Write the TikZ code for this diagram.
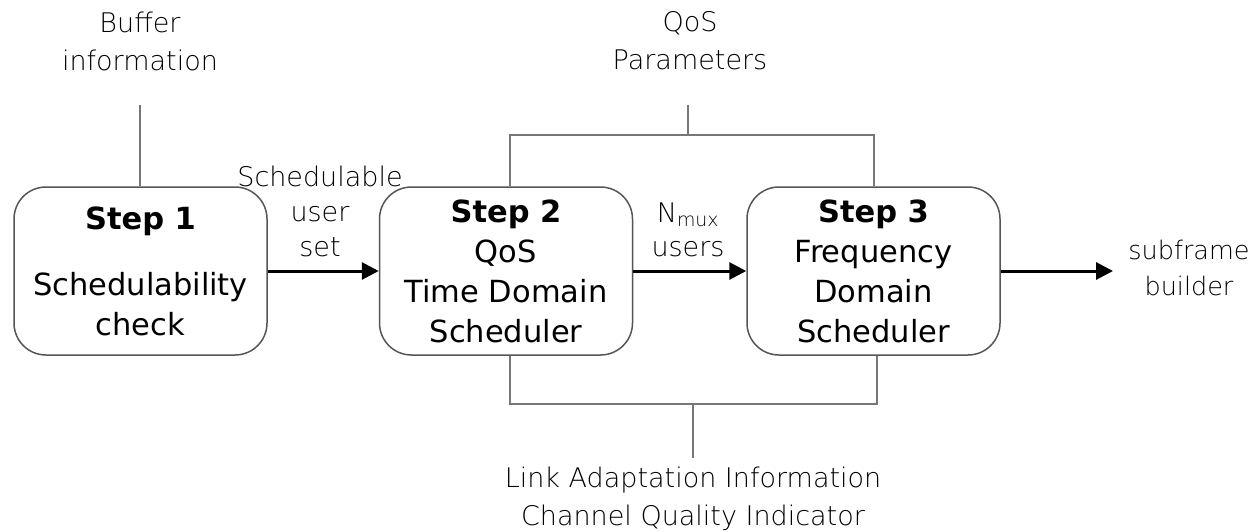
\documentclass[tikz,border=0pt]{standalone}
\usepackage{fontspec}
\setmainfont{DejaVu Sans}
\newfontfamily\lightfont{DejaVu Sans ExtraLight}
\usetikzlibrary{arrows.meta}
\definecolor{boxgray}{HTML}{555555}
\definecolor{linegray}{HTML}{777777}
\definecolor{labelgray}{HTML}{000000}
\begin{document}
\begin{tikzpicture}[x=1pt,y=-1pt,
  stepbox/.style={draw=boxgray, line width=1.5pt, rounded corners=32pt,
    minimum width=253pt, minimum height=168pt, align=center, inner sep=0pt,
    font=\fontsize{30.5}{40}\selectfont},
  lbl/.style={font=\lightfont\fontsize{27}{38}\selectfont, text=labelgray, align=center, inner sep=4pt},
  link/.style={draw=linegray, line width=1.5pt},
  flow/.style={draw=black, line width=3pt, -{Triangle[length=17pt,width=17pt]}}]
\useasboundingbox (0,0) rectangle (1257,532);
% boxes
\node[stepbox] (s1) at (140.5,271) {\textbf{Step 1}\\[26pt]Schedulability\\check};
\node[stepbox] (s2) at (506,271) {\textbf{Step 2}\\QoS\\Time Domain\\Scheduler};
\node[stepbox] (s3) at (873.5,271) {\textbf{Step 3}\\Frequency\\Domain\\Scheduler};
% labels
\node[lbl] (buf) at (140,41) {Buffer\\information};
\node[lbl] (qos) at (690,41) {QoS\\Parameters};
\node[lbl, font=\lightfont\fontsize{27}{35}\selectfont] (sus) at (320,211) {Schedulable\\user\\set};
\node[lbl, font=\lightfont\fontsize{27}{34}\selectfont] (nmux) at (688,230) {N\textsubscript{mux}\\users};
\node[lbl, font=\lightfont\fontsize{25.5}{36}\selectfont] (sub) at (1189,268) {subframe\\builder};
\node[lbl] (lai) at (693,498.5) {Link Adaptation Information\\Channel Quality Indicator};
% coordinates
\coordinate (b0) at (140,105);
\coordinate (q0) at (688,105);
\coordinate (qL) at (510,135);
\coordinate (qR) at (874,135);
\coordinate (lL) at (510,404);
\coordinate (lR) at (877,404);
\coordinate (l0) at (693,458);
\coordinate (a3) at (1113,271);
% connectors
\draw[link] (b0) -- (b0 |- s1.north);
\draw[link] (qL |- s2.north) -- (qL) -- (qR) -- (qR |- s3.north);
\draw[link] (q0) -- (q0 |- qL);
\draw[link] (lL |- s2.south) -- (lL) -- (lR) -- (lR |- s3.south);
\draw[link] (l0) -- (l0 |- lL);
\draw[flow] (s1) -- (s2);
\draw[flow] (s2) -- (s3);
\draw[flow] (s3.east) -- (a3);
\end{tikzpicture}
\end{document}
